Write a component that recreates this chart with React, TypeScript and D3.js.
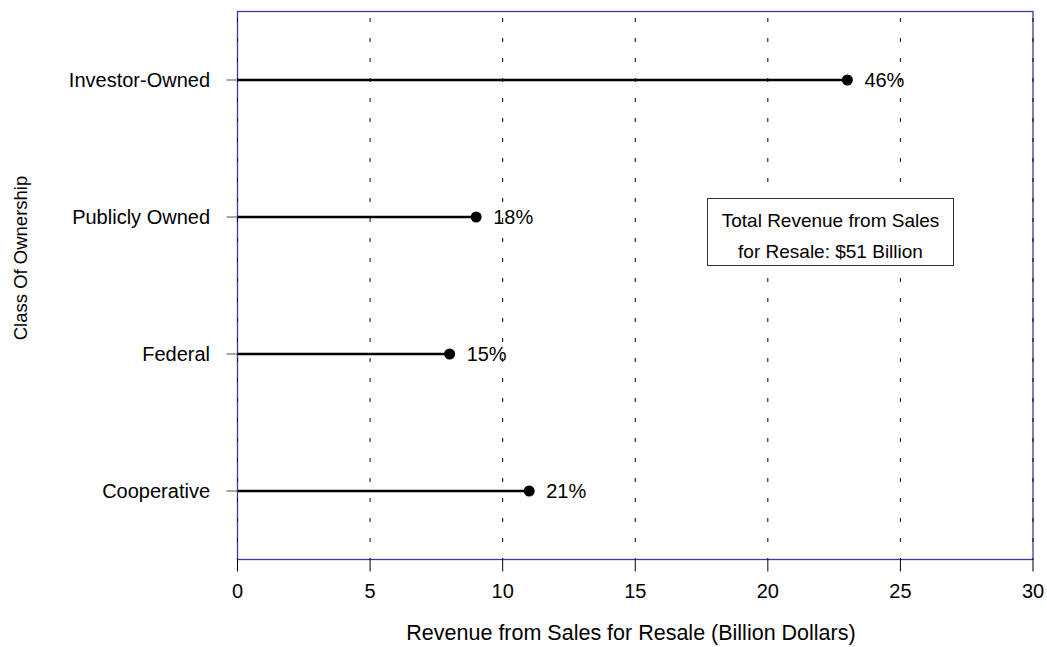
import React from "react";
import * as d3 from "d3";

const categories = ["Investor-Owned", "Publicly Owned", "Federal", "Cooperative"];
const revenues = [23, 9, 8, 11];
const shares = ["46%", "18%", "15%", "21%"];
const xTicks = [0, 5, 10, 15, 20, 25, 30];
const noteLines = ["Total Revenue from Sales", "for Resale: $51 Billion"];

const W = 1047;
const H = 647;
const left = 237.5;
const right = 1033;
const top = 11.5;
const bottom = 559.5;
const FONT = "'Liberation Sans', Arial, Helvetica, sans-serif";

export default function App() {
  const x = d3.scaleLinear().domain([0, 30]).range([left, right]);
  const y = d3
    .scalePoint<string>()
    .domain(categories)
    .range([top, bottom])
    .padding(0.5);

  return (
    <svg
      width={W}
      height={H}
      style={{ position: "absolute", left: 0, top: 0, background: "#fff" }}
      fontFamily={FONT}
    >
      {/* frame */}
      <rect x={left} y={top} width={right - left} height={bottom - top} fill="none" stroke="#3c3c9e" strokeWidth={1.3} />
      {/* grid */}
      {xTicks.map((t) => (
        <line key={"g" + t} x1={x(t)} x2={x(t)} y1={top} y2={bottom} stroke="#000" strokeWidth={1} strokeDasharray="4 16" strokeDashoffset={13.5} />
      ))}
      {/* x ticks */}
      {xTicks.map((t) => (
        <g key={"t" + t}>
          <line x1={x(t)} x2={x(t)} y1={bottom} y2={bottom + 12} stroke="#000" strokeWidth={1} />
          <text x={x(t)} y={598} textAnchor="middle" fontSize={20} fill="#000">{t}</text>
        </g>
      ))}
      {/* y ticks and labels */}
      {categories.map((c) => (
        <g key={"y" + c}>
          <line x1={left - 11} x2={left} y1={y(c)!} y2={y(c)!} stroke="#777" strokeWidth={1.3} />
          <text x={210} y={y(c)!} dy="0.35em" textAnchor="end" fontSize={20} fill="#000">{c}</text>
        </g>
      ))}
      {/* lollipops */}
      {categories.map((c, i) => (
        <g key={"l" + c}>
          <line x1={x(0)} x2={x(revenues[i])} y1={y(c)!} y2={y(c)!} stroke="#000" strokeWidth={2.5} />
          <circle cx={x(revenues[i])} cy={y(c)!} r={5.5} fill="#000" />
          <text x={x(revenues[i]) + 17} y={y(c)!} dy="0.35em" fontSize={20} fill="#000">{shares[i]}</text>
        </g>
      ))}
      {/* note box */}
      <rect x={707.5} y={198.5} width={246} height={67} fill="#fff" stroke="#333" strokeWidth={1} />
      {noteLines.map((l, i) => (
        <text key={l} x={830.5} y={227 + i * 31} textAnchor="middle" fontSize={19} fill="#000">{l}</text>
      ))}
      {/* axis titles */}
      <text x={631} y={640} textAnchor="middle" fontSize={21.5} fill="#000">
        Revenue from Sales for Resale (Billion Dollars)
      </text>
      <text transform="translate(27,258) rotate(-90)" textAnchor="middle" fontSize={18.5} fill="#000">
        Class Of Ownership
      </text>
    </svg>
  );
}
